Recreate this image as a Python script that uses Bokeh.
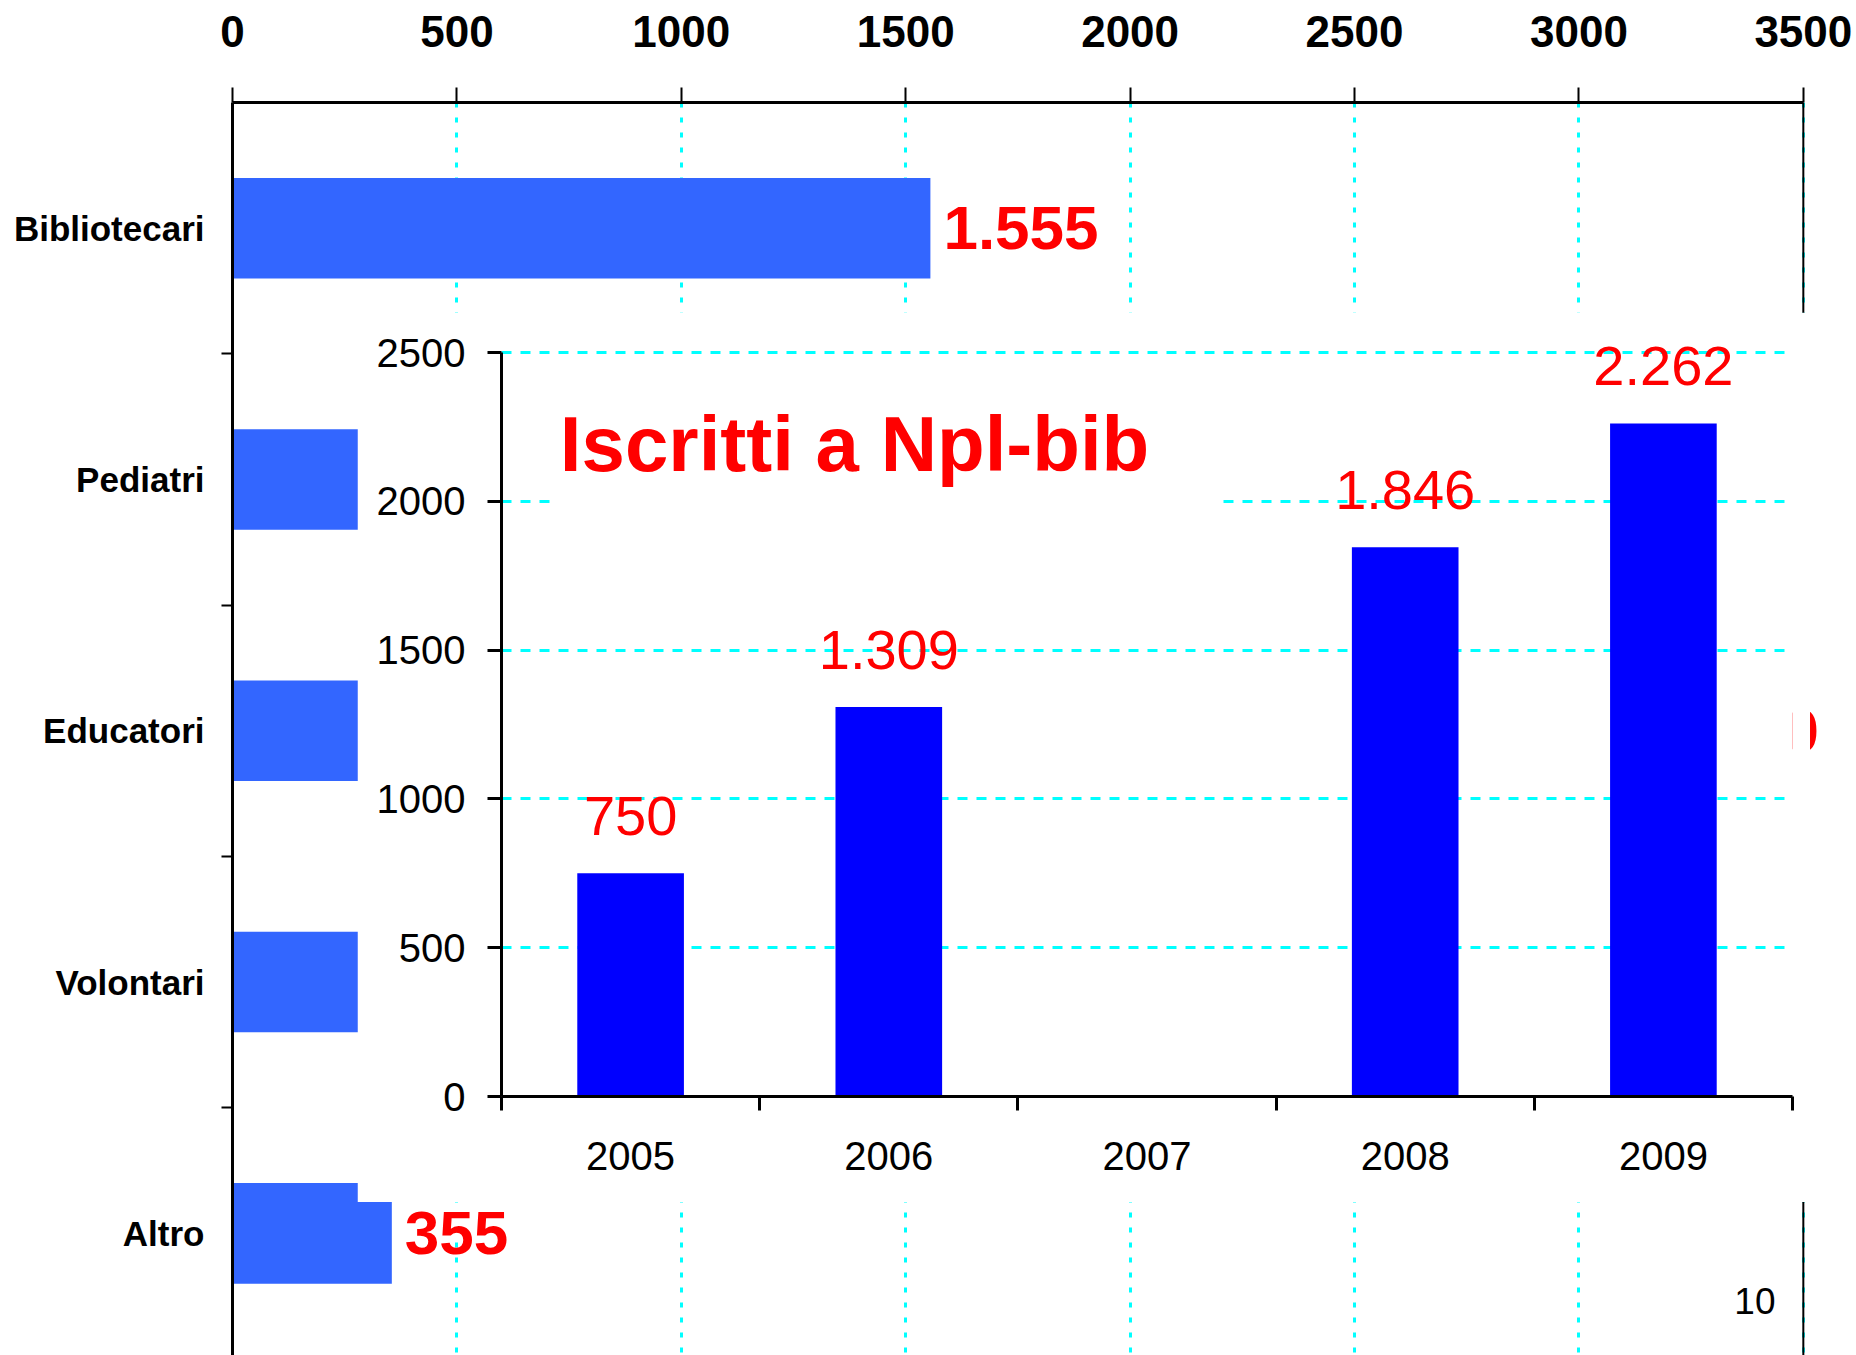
from bokeh.plotting import figure
from bokeh.models import Range1d, FixedTicker, ColumnDataSource, Span, Label
from bokeh.layouts import column
from bokeh.embed import file_html
from bokeh.resources import INLINE
from bokeh.core.properties import value

# ---------------- data ----------------
categories = ["Bibliotecari", "Pediatri", "Educatori", "Volontari", "Altro"]
counts = [1555, 520, 3160, 470, 355]
count_ticks = [0, 500, 1000, 1500, 2000, 2500, 3000, 3500]

years = ["2005", "2006", "2007", "2008", "2009"]
iscritti = [750, 1309, None, 1846, 2262]
iscritti_ticks = [0, 500, 1000, 1500, 2000, 2500]

inset_title = "Iscritti a Npl-bib"
page_number = "10"


def fmt(v):
    return f"{v:,}".replace(",", ".")


SANS = "Liberation Sans"
CYAN = "#00FFFF"

# ---------------- outer horizontal bar chart ----------------
cat_pos = [i + 0.5 for i in range(len(categories))]
outer = figure(width=1856, height=1355,
               x_range=Range1d(0, 3565), y_range=Range1d(4.986, 0),
               x_axis_location="above", output_backend="svg", toolbar_location=None,
               min_border_left=232, min_border_right=24, min_border_top=102, min_border_bottom=0,
               frame_align=False)
outer.outline_line_color = None
outer.background_fill_color = "white"
outer.border_fill_color = "white"

xa = outer.xaxis[0]
xa.ticker = FixedTicker(ticks=count_ticks)
xa.bounds = (0, 3500)
xa.axis_line_width = 3
xa.axis_line_color = "black"
xa.major_tick_out = 15
xa.major_tick_in = 0
xa.major_tick_line_width = 2
xa.minor_tick_line_color = None
xa.minor_tick_out = 0
xa.major_label_text_font = SANS
xa.major_label_text_font_style = "bold"
xa.major_label_text_font_size = "44px"
xa.major_label_text_color = "black"
xa.major_label_standoff = 41

ya = outer.yaxis[0]
ya.ticker = FixedTicker(ticks=cat_pos, minor_ticks=[1, 2, 3, 4])
ya.major_label_overrides = {p: c for p, c in zip(cat_pos, categories)}
ya.major_tick_out = 0
ya.major_tick_in = 0
ya.minor_tick_out = 11
ya.minor_tick_in = 0
ya.minor_tick_line_width = 2
ya.minor_tick_line_color = "black"
ya.axis_line_width = 3
ya.axis_line_color = "black"
ya.major_label_text_font = SANS
ya.major_label_text_font_style = "bold"
ya.major_label_text_font_size = "35px"
ya.major_label_text_color = "black"
ya.major_label_standoff = 17

outer.xgrid.ticker = FixedTicker(ticks=count_ticks)
outer.xgrid.grid_line_color = CYAN
outer.xgrid.grid_line_width = 3
outer.xgrid.grid_line_dash = "5 10"
outer.ygrid.grid_line_color = None

outer.add_layout(Span(location=3500, dimension="height", line_color="black", line_width=2))

src_outer = ColumnDataSource(dict(y=cat_pos, v=counts, lab=[fmt(c) for c in counts]))
outer.hbar(y="y", left=0, right="v", height=0.4, source=src_outer,
           fill_color="#3366FF", line_color=None)
outer.text(x="v", y="y", text="lab", source=src_outer, x_offset=13,
           text_align="left", text_baseline="middle", text_color="#FF0000",
           text_font=value(SANS), text_font_style="bold", text_font_size="62px")

outer.add_layout(Label(x=3438, y=4.768, text=page_number, text_align="right",
                       text_baseline="middle", text_font=SANS,
                       text_font_size="37px", text_color="black"))

# ---------------- inset vertical bar chart ----------------
year_pos = [i + 0.5 for i in range(len(years))]
inset = figure(width=1453, height=890,
               x_range=Range1d(0, 5), y_range=Range1d(0, 2635),
               output_backend="svg", toolbar_location=None,
               min_border_left=144, min_border_right=18, min_border_top=0, min_border_bottom=106,
               frame_align=False,
               styles={"margin-top": "-1043px", "margin-left": "357px",
                       "position": "relative", "z-index": "2"})
inset.outline_line_color = None
inset.background_fill_color = "white"
inset.border_fill_color = "white"

inset.xgrid.grid_line_color = None
inset.ygrid.ticker = FixedTicker(ticks=iscritti_ticks)
inset.ygrid.grid_line_color = CYAN
inset.ygrid.grid_line_width = 3
inset.ygrid.grid_line_dash = "10 9"

iy = inset.yaxis[0]
iy.ticker = FixedTicker(ticks=iscritti_ticks)
iy.bounds = (0, 2500)
iy.axis_line_width = 3
iy.axis_line_color = "black"
iy.major_tick_out = 14
iy.major_tick_in = 0
iy.major_tick_line_width = 3
iy.minor_tick_line_color = None
iy.minor_tick_out = 0
iy.major_label_text_font = SANS
iy.major_label_text_font_size = "40px"
iy.major_label_text_color = "black"
iy.major_label_standoff = 22

ix = inset.xaxis[0]
ix.ticker = FixedTicker(ticks=year_pos, minor_ticks=[0, 1, 2, 3, 4, 5])
ix.major_label_overrides = {p: y for p, y in zip(year_pos, years)}
ix.axis_line_width = 3
ix.axis_line_color = "black"
ix.major_tick_out = 0
ix.major_tick_in = 0
ix.minor_tick_out = 14
ix.minor_tick_in = 0
ix.minor_tick_line_width = 3
ix.minor_tick_line_color = "black"
ix.major_label_text_font = SANS
ix.major_label_text_font_size = "40px"
ix.major_label_text_color = "black"
ix.major_label_standoff = 31

# white box behind the title (hides the grid line there)
inset.quad(left=0.19, right=2.78, bottom=1960, top=2350, fill_color="white", line_color=None)

keep = [i for i, v in enumerate(iscritti) if v is not None]
src_in = ColumnDataSource(dict(x=[year_pos[i] for i in keep],
                               v=[iscritti[i] for i in keep],
                               lab=[fmt(iscritti[i]) for i in keep]))
inset.vbar(x="x", bottom=0, top="v", width=0.413, source=src_in,
           fill_color="#0000FF", line_color=None)
inset.text(x="x", y="v", text="lab", source=src_in, y_offset=-57,
           text_align="center", text_baseline="middle", text_color="#FF0000",
           text_font=value(SANS), text_font_size="56px")

inset.add_layout(Label(x=0.226, y=2194, text=inset_title, text_align="left",
                       text_baseline="middle", text_font=SANS, text_font_style="bold",
                       text_font_size="78px", text_color="#FF0000"))

p = column(outer, inset)
open("out.html", "w").write(file_html(p, INLINE))
